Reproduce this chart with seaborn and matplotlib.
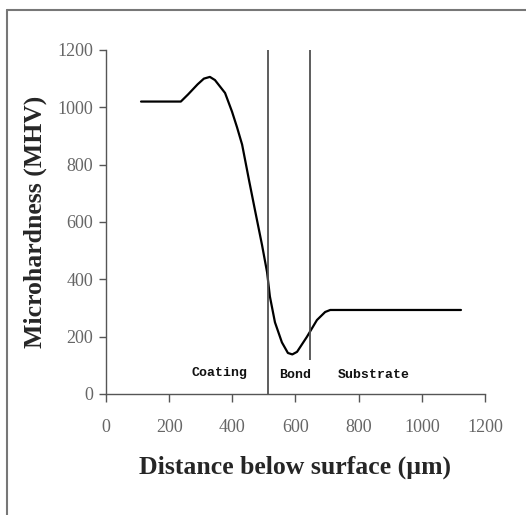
import numpy as np
import pandas as pd
import seaborn as sns
import matplotlib.pyplot as plt
from matplotlib.lines import Line2D

# hardness profile
depth = [111, 180, 237, 260, 290, 310, 329, 345, 377, 399, 415, 431, 446, 453,
         472, 494, 510, 519, 535, 557, 576, 590, 605, 636, 668, 694, 710, 800, 1000, 1124]
hardness = [1020, 1020, 1020, 1045, 1080, 1100, 1106, 1095, 1050, 985, 930, 870, 785, 745,
            640, 520, 425, 340, 250, 180, 143, 138, 147, 199, 258, 286, 293, 293, 293, 293]

# region boundaries (x position, lower end of the line)
boundary_x = [513, 646]
boundary_low = [0, 120]
boundary_high = [1200, 1200]

region_names = ["Coating", "Bond", "Substrate"]
region_x = [361, 598, 849]
region_y = [73, 66, 66]

x_ticks = [0, 200, 400, 600, 800, 1000, 1200]
y_ticks = [0, 200, 400, 600, 800, 1000, 1200]

df = pd.DataFrame({"depth": depth, "hardness": hardness})

sns.set_style("white")
fig = plt.figure(figsize=(5.26, 5.15), dpi=100)
ax = fig.add_axes([0.2015, 0.235, 0.7205, 0.668])

sns.lineplot(data=df, x="depth", y="hardness", color="black", linewidth=1.6, ax=ax)
ax.vlines(boundary_x, boundary_low, boundary_high, colors="#505050", linewidth=1.3)

for name, x, y in zip(region_names, region_x, region_y):
    ax.text(x, y, name, ha="center", va="center", fontsize=9.5,
            family="Liberation Mono", fontweight="bold", color="#111111")

ax.set_xlim(0, 1200)
ax.set_ylim(0, 1200)
ax.set_xticks(x_ticks)
ax.set_yticks(y_ticks)
for side in ["top", "right"]:
    ax.spines[side].set_visible(False)
for side in ["left", "bottom"]:
    ax.spines[side].set_color("#555555")
    ax.spines[side].set_linewidth(1.0)
ax.tick_params(axis="both", direction="out", width=1, color="#555555",
               labelcolor="#666666", labelsize=13, left=True, bottom=True)
ax.tick_params(axis="y", length=5, pad=4)
ax.tick_params(axis="x", length=6, pad=12)
for lab in ax.get_xticklabels() + ax.get_yticklabels():
    lab.set_family("Liberation Serif")

ax.set_xlabel("Distance below surface (µm)", family="Liberation Serif",
              fontweight="bold", fontsize=18.5, labelpad=14)
ax.set_ylabel("Microhardness (MHV)", family="Liberation Serif",
              fontweight="bold", fontsize=18.5, labelpad=8)

# outer frame (only top and left visible in the original crop)
fig.add_artist(Line2D([7 / 526, 1], [1 - 10 / 515, 1 - 10 / 515], color="#777777", linewidth=1.5))
fig.add_artist(Line2D([7 / 526, 7 / 526], [0, 1 - 10 / 515], color="#777777", linewidth=1.5))

fig.savefig("out.png", dpi=100)
